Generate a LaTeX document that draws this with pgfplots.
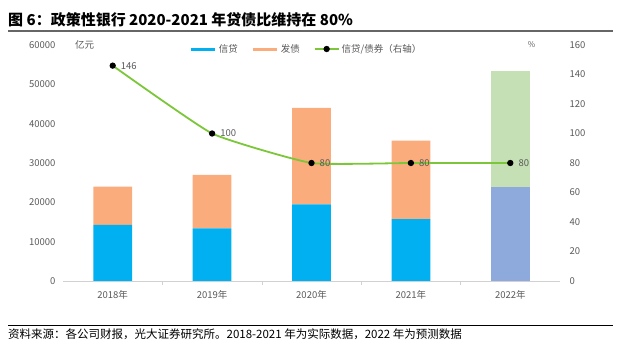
\documentclass[border=0pt]{standalone}
\usepackage{pgfplots}
\pgfplotsset{compat=1.18}
\usepackage{fontspec}
\setmainfont{Noto Sans CJK SC}
\definecolor{cblue}{HTML}{00B0F0}
\definecolor{corange}{HTML}{FBAC7C}
\definecolor{cblue2}{HTML}{8EAADC}
\definecolor{cgreen2}{HTML}{C5E0B4}
\definecolor{cline}{HTML}{7CC63A}
\definecolor{ctxt}{HTML}{595959}
\begin{document}
\begin{tikzpicture}[x=1pt,y=1pt]
\useasboundingbox (0,0) rectangle (640,345);
\node[anchor=west, inner sep=0pt, font=\fontsize{15}{17}\selectfont\bfseries] at (8,325) {图 6：政策性银行 2020-2021 年贷债比维持在 80\%};
\draw[line width=1.6pt, black!60] (8,314) -- (613,314);
\draw[line width=0.8pt, black] (8,20) -- (613,20);
\node[anchor=west, inner sep=0pt, font=\fontsize{11.5}{13}\selectfont] at (8,11) {资料来源：各公司财报，光大证券研究所。2018-2021 年为实际数据，2022 年为预测数据};

\begin{axis}[
  at={(63pt,64pt)}, anchor=south west,
  width=497pt, height=236pt, scale only axis,
  clip=false,
  xmin=-0.5, xmax=4.5, ymin=0, ymax=60000,
  ybar stacked, bar width=0.39,
  xtick={0,1,2,3,4},
  xticklabels={2018年,2019年,2020年,2021年,2022年},
  minor xtick={0.5,1.5,2.5,3.5},
  ytick={0,10000,...,60000},
  scaled y ticks=false,
  /pgf/number format/.cd, 1000 sep={}, assume math mode=true,
  /pgfplots/.cd,
  separate axis lines,
  axis x line*=bottom, axis y line*=left,
  x axis line style={draw=black!18, line width=0.8pt, -},
  y axis line style={draw=none},
  major tick length=0pt,
  minor tick length=4pt,
  minor tick style={draw=black!18},
  tick align=outside,
  ticklabel style={font=\fontsize{9.5}{11}\selectfont, text=ctxt},
  yticklabel style={xshift=-4pt},
  xticklabel style={yshift=-6pt},
]
\addplot[fill=cblue, draw=none] coordinates {(0,14300) (1,13400) (2,19500) (3,15700) (4,0)};
\addplot[fill=corange, draw=none] coordinates {(0,9700) (1,13600) (2,24500) (3,20000) (4,0)};
\addplot[fill=cblue2, draw=none] coordinates {(0,0) (1,0) (2,0) (3,0) (4,23800)};
\addplot[fill=cgreen2, draw=none] coordinates {(0,0) (1,0) (2,0) (3,0) (4,29700)};
\node[anchor=west, font=\fontsize{9.5}{11}\selectfont, text=ctxt, inner sep=0pt] at (rel axis cs:0.024,1) {亿元};
\end{axis}

\begin{axis}[
  at={(63pt,64pt)}, anchor=south west,
  width=497pt, height=236pt, scale only axis,
  clip=false,
  xmin=-0.5, xmax=4.5, ymin=0, ymax=160,
  ytick={0,20,...,160},
  /pgf/number format/assume math mode=true,
  axis y line*=right, axis x line=none,
  y axis line style={draw=none},
  major tick length=0pt,
  ticklabel style={font=\fontsize{9.5}{11}\selectfont, text=ctxt},
  yticklabel style={xshift=6pt},
  legend columns=3,
  legend style={at={(0.49,0.983)}, anchor=center, draw=none, fill=none,
    font=\fontsize{9.5}{11}\selectfont, text=ctxt,
    /tikz/every even column/.append style={column sep=12pt}},
  legend image code/.code={\draw[mark repeat=2, mark phase=2, #1] plot coordinates {(0pt,0pt) (12pt,0pt) (24pt,0pt)};},
]
\addlegendimage{line width=3pt, cblue}
\addlegendentry{信贷}
\addlegendimage{line width=3pt, corange}
\addlegendentry{发债}
\addplot[cline, line width=1.8pt, smooth, tension=0.25, mark=*, mark size=2.2pt,
  mark options={fill=black, draw=black},
  nodes near coords, every node near coord/.append style={anchor=west, xshift=4pt, font=\fontsize{9.5}{11}\selectfont, text=ctxt}]
  coordinates {(0,146) (1,100) (2,80) (3,80) (4,80)};
\addlegendentry{信贷/债券（右轴）}
\node[anchor=center, font=\fontsize{8}{10}\selectfont, text=ctxt, inner sep=0pt] at (rel axis cs:0.943,1) {\%};
\end{axis}
\end{tikzpicture}
\end{document}
